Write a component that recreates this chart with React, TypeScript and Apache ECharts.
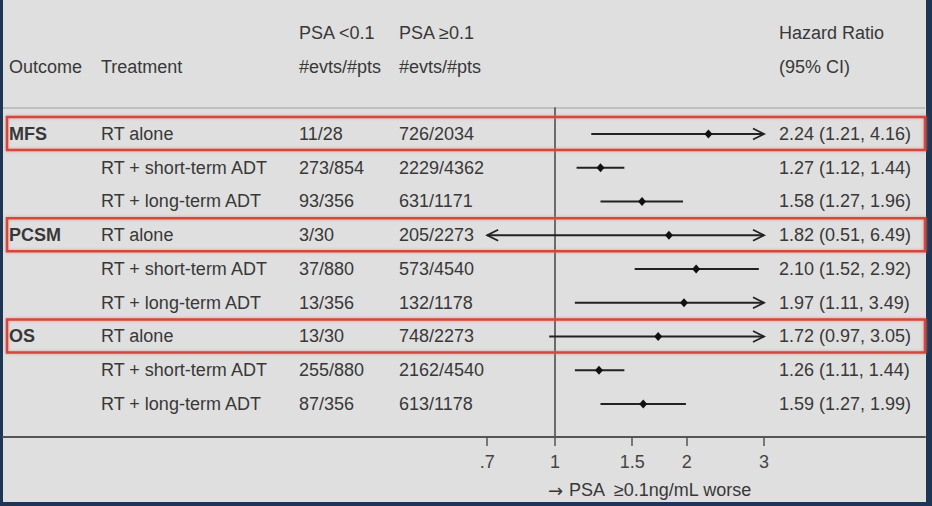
import React, { useEffect, useRef } from "react";
import * as echarts from "echarts";

const outcomes = ["MFS", "", "", "PCSM", "", "", "OS", "", ""];
const treatments = [
  "RT alone",
  "RT + short-term ADT",
  "RT + long-term ADT",
  "RT alone",
  "RT + short-term ADT",
  "RT + long-term ADT",
  "RT alone",
  "RT + short-term ADT",
  "RT + long-term ADT",
];
const psaLow = ["11/28", "273/854", "93/356", "3/30", "37/880", "13/356", "13/30", "255/880", "87/356"];
const psaHigh = ["726/2034", "2229/4362", "631/1171", "205/2273", "573/4540", "132/1178", "748/2273", "2162/4540", "613/1178"];
const hrValues = [2.24, 1.27, 1.58, 1.82, 2.1, 1.97, 1.72, 1.26, 1.59];
const ciLow = [1.21, 1.12, 1.27, 0.51, 1.52, 1.11, 0.97, 1.11, 1.27];
const ciHigh = [4.16, 1.44, 1.96, 6.49, 2.92, 3.49, 3.05, 1.44, 1.99];
const highlighted = [true, false, false, true, false, false, true, false, false];

const tickValues = [0.7, 1, 1.5, 2, 3];
const tickLabels = [".7", "1", "1.5", "2", "3"];
const CLIP_MIN = 0.7;
const CLIP_MAX = 3;

const FONT = '"Liberation Sans", Arial, Helvetica, sans-serif';
const TEXT = "#383838";

export default function App() {
  const ref = useRef<HTMLDivElement>(null);

  useEffect(() => {
    document.body.style.margin = "0";
    const chart = echarts.init(ref.current!, null, { renderer: "svg" });
    const data = hrValues.map((v, i) => [i, Math.log(v), Math.log(ciLow[i]), Math.log(ciHigh[i])]);
    const logTicks = tickValues.map((v) => Math.log(v));

    const renderItem = (params: any, api: any) => {
      const i = params.dataIndex;
      const row = api.value(0);
      const lnHr = api.value(1);
      const lnLo = api.value(2);
      const lnHi = api.value(3);
      const minL = Math.log(CLIP_MIN);
      const maxL = Math.log(CLIP_MAX);
      const loC = Math.max(lnLo, minL);
      const hiC = Math.min(lnHi, maxL);
      const y = api.coord([0, row])[1];
      const xLo = api.coord([loC, row])[0];
      const xHi = api.coord([hiC, row])[0];
      const xHr = api.coord([lnHr, row])[0];
      const lineStyle = { stroke: "#222", lineWidth: 1.8, fill: "none" };
      const children: any[] = [];
      if (highlighted[i]) {
        children.push({
          type: "rect",
          shape: { x: 7, y: y - 17, width: 918, height: 33 },
          style: {
            fill: "none",
            stroke: "#d4463c",
            lineWidth: 2.5,
            shadowBlur: 3,
            shadowColor: "rgba(230,120,110,0.7)",
          },
        });
      }
      children.push({ type: "line", shape: { x1: xLo, y1: y, x2: xHi, y2: y }, style: lineStyle });
      if (lnLo < minL) {
        children.push({
          type: "polyline",
          shape: { points: [[xLo + 11, y - 5.5], [xLo, y], [xLo + 11, y + 5.5]] },
          style: lineStyle,
        });
      }
      if (lnHi > maxL) {
        children.push({
          type: "polyline",
          shape: { points: [[xHi - 11, y - 5.5], [xHi, y], [xHi - 11, y + 5.5]] },
          style: lineStyle,
        });
      }
      children.push({
        type: "polygon",
        shape: { points: [[xHr, y - 4.5], [xHr + 4, y], [xHr, y + 4.5], [xHr - 4, y]] },
        style: { fill: "#111" },
      });
      const txt = (text: string, x: number, bold = false) => ({
        type: "text",
        x,
        y,
        style: {
          text,
          fill: TEXT,
          font: `${bold ? "bold " : ""}18px ${FONT}`,
          textAlign: "left",
          textVerticalAlign: "middle",
        },
      });
      if (outcomes[i]) children.push(txt(outcomes[i], 9, true));
      children.push(txt(treatments[i], 101));
      children.push(txt(psaLow[i], 299));
      children.push(txt(psaHigh[i], 399));
      children.push(
        txt(`${hrValues[i].toFixed(2)} (${ciLow[i].toFixed(2)}, ${ciHigh[i].toFixed(2)})`, 779)
      );
      return { type: "group", children };
    };

    const headerText = (text: string, x: number, y: number, align = "left") => ({
      type: "text",
      x,
      y,
      silent: true,
      style: {
        text,
        fill: TEXT,
        font: `18px ${FONT}`,
        textAlign: align,
        textVerticalAlign: "middle",
      },
    });

    chart.setOption({
      animation: false,
      backgroundColor: "#dfdfdf",
      grid: { left: 3, right: 7, top: 108, bottom: 69 },
      xAxis: {
        type: "value",
        min: -2.902,
        max: 1.945,
        axisLine: { onZero: false, lineStyle: { color: "#555", width: 2 } },
        axisTick: {
          show: true,
          customValues: logTicks,
          length: 9,
          lineStyle: { color: "#555", width: 1.5 },
        },
        axisLabel: {
          show: true,
          customValues: logTicks,
          formatter: (v: number) => {
            const j = logTicks.findIndex((t) => Math.abs(t - v) < 1e-6);
            return j >= 0 ? tickLabels[j] : "";
          },
          color: "#444",
          fontSize: 18,
          fontFamily: FONT,
          margin: 16,
        },
        splitLine: { show: false },
      },
      yAxis: {
        type: "value",
        inverse: true,
        min: -0.77,
        max: 8.978,
        axisLine: { show: true, onZero: true, lineStyle: { color: "#444", width: 1.5 } },
        axisTick: { show: false },
        axisLabel: { show: false },
        splitLine: { show: false },
      },
      series: [
        {
          type: "custom",
          data,
          renderItem,
          clip: false,
          encode: { x: 1, y: 0 },
        },
      ],
      graphic: [
        {
          type: "line",
          silent: true,
          shape: { x1: 3, y1: 108, x2: 925, y2: 108 },
          style: { stroke: "#b5b5b5", lineWidth: 1.5 },
        },
        headerText("PSA <0.1", 299, 33),
        headerText("PSA \u22650.1", 399, 33),
        headerText("Hazard Ratio", 779, 33),
        headerText("Outcome", 9, 67),
        headerText("Treatment", 101, 67),
        headerText("#evts/#pts", 299, 67),
        headerText("#evts/#pts", 399, 67),
        headerText("(95% CI)", 779, 67),
        {
          type: "text",
          x: 650,
          y: 490,
          silent: true,
          style: {
            text: "{a|\u2192} PSA  \u22650.1ng/mL worse",
            fill: TEXT,
            font: `18px ${FONT}`,
            textAlign: "center",
            textVerticalAlign: "middle",
            rich: {
              a: { fontFamily: '"DejaVu Sans", sans-serif', fontSize: 18, fill: TEXT, color: TEXT },
            },
          },
        },
        { type: "rect", silent: true, shape: { x: 0, y: 0, width: 3, height: 506 }, style: { fill: "#1e3553" } },
        { type: "rect", silent: true, shape: { x: 926, y: 0, width: 6, height: 506 }, style: { fill: "#1e3553" } },
        { type: "rect", silent: true, shape: { x: 0, y: 502, width: 932, height: 4 }, style: { fill: "#1e3553" } },
      ],
    });
    return () => chart.dispose();
  }, []);

  return <div ref={ref} style={{ width: 932, height: 506 }} />;
}
